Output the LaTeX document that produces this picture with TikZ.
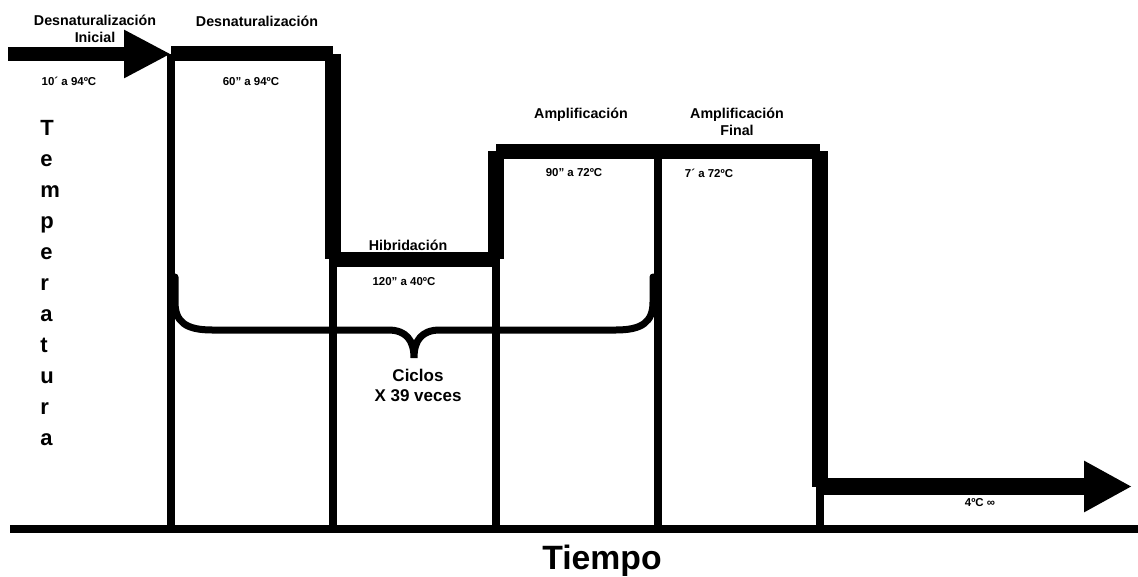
\documentclass[tikz,border=0pt]{standalone}
\usepackage{fontspec}
\setmainfont{Liberation Sans}
\usepackage{tikz}
\usetikzlibrary{arrows.meta}
\newcommand{\pcrlabel}[5]{%
\node[font=\fontsize{#4}{#5}\selectfont\bfseries, align=center, inner sep=0pt] (#2) at (#1) {#3};}

\begin{document}
\begin{tikzpicture}[x=0.75pt,y=-0.75pt,
  plateau/.style={line width=11.25pt},
  drop/.style={line width=12pt},
  guide/.style={line width=6pt}]
\useasboundingbox (0,0) rectangle (1138,577);
% profile corners
\coordinate (a0) at (8,54);
\coordinate (c1) at (171,54);
\coordinate (c2) at (333,54);
\coordinate (c3) at (333,259.5);
\coordinate (c4) at (496,259.5);
\coordinate (c5) at (496,151.5);
\coordinate (c6) at (658,151.5);
\coordinate (c7) at (820,151.5);
\coordinate (c8) at (820,486.5);
\coordinate (a1) at (1132,486.5);
% time axis
\coordinate (t0) at (10,529);
\coordinate (t1) at (1138,529);
\draw[line width=6pt] (t0) -- (t1);
\draw[guide] (c1) -- (c1 |- t0);
\draw[guide] (c3) -- (c3 |- t0);
\draw[guide] (c5) -- (c5 |- t0);
\draw[guide] (c6) -- (c6 |- t0);
\draw[guide] (c8) -- (c8 |- t0);
% plateaus and drops
\draw[line width=10.5pt, -{Triangle[length=35.25pt,width=33.75pt]}] (a0) -- (c1);
\draw[plateau] (c1) -- (c2);
\draw[drop] (c2) -- (c3);
\draw[plateau] ([xshift=-3pt]c3) -- (c4);
\draw[drop] (c4) -- (c5);
\draw[plateau] (c5) -- (c7);
\draw[drop] (c7) -- (c8);
\draw[line width=12.75pt, -{Triangle[length=36pt,width=36pt]}] (c8) -- (a1);
% brace over the cycle
\draw[line width=5.25pt, line cap=round]
  (175,277) -- (175,302) .. controls (175,322) and (186,330) .. (212,330)
  -- (388,330) .. controls (406,330) and (414,340) .. (414,358)
  .. controls (414,340) and (422,330) .. (440,330)
  -- (616,330) .. controls (642,330) and (653,322) .. (653,302) -- (653,277);
% labels
\pcrlabel{95,29}{d0}{Desnaturalización\\Inicial}{10.7}{12.75}
\pcrlabel{257,21}{d1}{Desnaturalización}{10.7}{12.75}
\pcrlabel{408,245}{hib}{Hibridación}{10.7}{12.75}
\pcrlabel{581,115}{amp}{Amplificación}{10.7}{12.75}
\pcrlabel{737,122}{ampf}{Amplificación\\Final}{10.7}{12.75}
\pcrlabel{69,81}{d0t}{10´ a 94ºC}{8.6}{10}
\pcrlabel{251,82}{d1t}{60" a 94ºC}{8.6}{10}
\pcrlabel{404,282}{hibt}{120" a 40ºC}{8.6}{10}
\pcrlabel{574,173}{ampt}{90" a 72ºC}{8.6}{10}
\pcrlabel{709,173}{ampft}{7´ a 72ºC}{8.6}{10}
\pcrlabel{980,503}{hold}{4ºC ∞}{8.6}{10}
\pcrlabel{418,385}{cyc}{Ciclos\\X 39 veces}{12.75}{15}
\pcrlabel{602,561}{time}{Tiempo}{25.3}{30}
\node[font=\fontsize{16.5}{23.25}\selectfont\bfseries, align=left, inner sep=0pt, anchor=west] (temp) at (40,283)
  {T\\e\\m\\p\\e\\r\\a\\t\\u\\r\\a};
\end{tikzpicture}
\end{document}
